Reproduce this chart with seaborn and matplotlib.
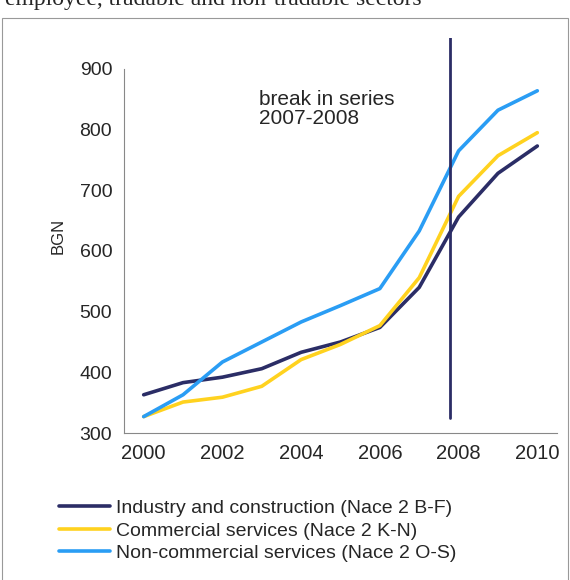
import numpy as np
import pandas as pd
import matplotlib.pyplot as plt
import seaborn as sns

years = list(range(2000, 2011))
industry = [363, 383, 392, 406, 433, 450, 474, 540, 656, 728, 773]
commercial = [327, 351, 359, 377, 421, 446, 477, 556, 690, 757, 795]
noncommercial = [327, 363, 417, 450, 483, 510, 538, 633, 765, 832, 864]
series_names = ["Industry and construction (Nace 2 B-F)",
                "Commercial services (Nace 2 K-N)",
                "Non-commercial services (Nace 2 O-S)"]
colors = ["#2B2D66", "#FFD21F", "#2A9DF4"]

df = pd.DataFrame({
    "pos": list(range(len(years))) * 3,
    "value": industry + commercial + noncommercial,
    "series": np.repeat(series_names, len(years)),
})

sns.set_style("white")
plt.rcParams['font.family'] = ['Liberation Sans', 'DejaVu Sans']

fig = plt.figure(figsize=(5.7, 5.8), dpi=100)
ax = fig.add_axes([124 / 570, 1 - 433 / 580, (557 - 124) / 570, (433 - 38) / 580])

sns.lineplot(data=df, x="pos", y="value", hue="series", palette=colors,
             linewidth=2.6, ax=ax, legend=False)

ax.plot([7.78, 7.78], [325, 960], color="#2B2D66", linewidth=2)
ax.text(2.94, 866, "break in series\n2007-2008", fontsize=15, va="top", linespacing=1.0)

ax.set_xlim(-0.5, 10.5)
ax.set_ylim(300, 951)
ax.set_yticks([300, 400, 500, 600, 700, 800, 900])
ax.set_xticks(range(0, 11, 2))
ax.set_xticklabels([str(y) for y in years[::2]], fontsize=14.5)
ax.set_xticks(np.arange(-0.5, 11, 1), minor=True)
ax.tick_params(axis="x", which="major", length=0, pad=8)
ax.tick_params(axis="x", which="minor", length=5, color="#888888", direction="out")
ax.tick_params(axis="y", length=5, color="#888888", direction="out", labelsize=14)
ax.set_xlabel("")
ax.set_ylabel("BGN", fontsize=12, labelpad=10)
for s in ["top", "right"]:
    ax.spines[s].set_visible(False)
for s in ["left", "bottom"]:
    ax.spines[s].set_color("#888888")
ax.spines["left"].set_bounds(300, 900)

handles = [plt.Line2D([], [], color=c, linewidth=2.6) for c in colors]
fig.legend(handles, series_names, loc="upper left", bbox_to_anchor=(42 / 570, 1 - 482 / 580),
           frameon=False, fontsize=14, handlelength=2.6, handletextpad=0.3, labelspacing=0.25)

fig.text(5 / 570, 1.0, "employee, tradable and non-tradable sectors", fontsize=17,
         family=["Liberation Serif", "DejaVu Serif"], va="center", ha="left")
fig.add_artist(plt.Rectangle((2 / 570, -0.01), 1 - 4 / 570, 1 - 18 / 580 + 0.01,
                             transform=fig.transFigure, fill=False, edgecolor="#999999", linewidth=0.8))

fig.savefig("out.png", dpi=100)
